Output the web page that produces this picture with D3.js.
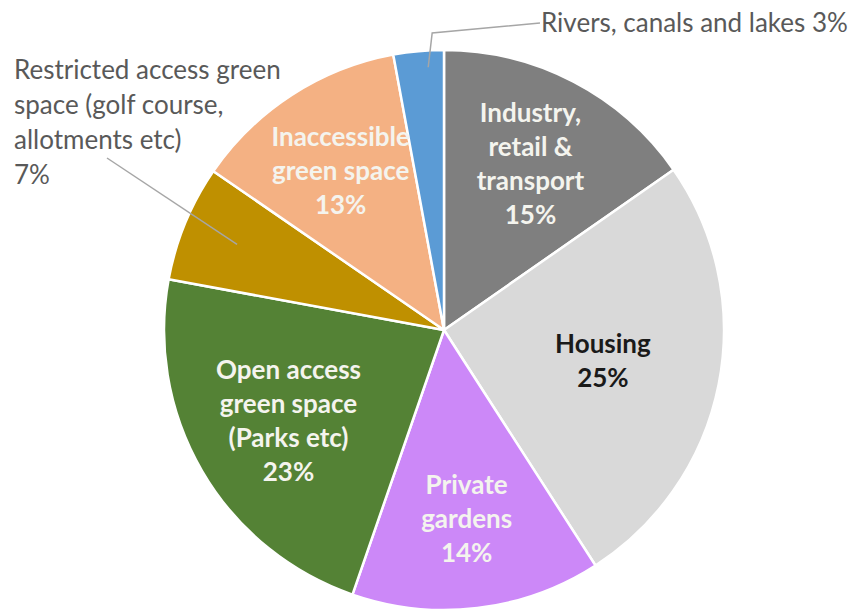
<!DOCTYPE html>
<html>
<head>
<meta charset="utf-8">
<script src="https://cdn.jsdelivr.net/npm/d3@7"></script>
<style>
  body { margin: 0; background: #fff; }
  svg text { font-family: Lato, "Open Sans", sans-serif; }
</style>
</head>
<body>
<svg id="pie" width="861" height="611"></svg>
<script>
// land use shares, clockwise from 12 o'clock
const categories = ['Industry, retail & transport', 'Housing', 'Private gardens',
    'Open access green space (Parks etc)', 'Restricted access green space (golf course, allotments etc)',
    'Inaccessible green space', 'Rivers, canals and lakes'];
const shares = [15.3, 25.6, 14.4, 22.6, 6.7, 12.5, 2.9];
const pctLabels = ['15%', '25%', '14%', '23%', '7%', '13%', '3%'];
const labelLines = [
    ['Industry,', 'retail &', 'transport'],
    ['Housing'],
    ['Private', 'gardens'],
    ['Open access', 'green space', '(Parks etc)'],
    ['Restricted access green', 'space (golf course,', 'allotments etc)'],
    ['Inaccessible', 'green space'],
    ['Rivers, canals and lakes']
];
const colors = ['#7f7f7f', '#d9d9d9', '#cc88f8', '#548235', '#bf9000', '#f4b183', '#5b9bd5'];

const svg = d3.select('svg#pie'),
    cx = 444, cy = 330, radius = 280,
    fontSize = 26;

const g = svg.append('g').attr('transform', 'translate(' + cx + ',' + cy + ')');

const data = categories.map(function(c, i) {
    return {name: c, value: shares[i], pct: pctLabels[i], lines: labelLines[i], color: colors[i]};
});

const pie = d3.pie().sort(null).value(d => d.value);
const arcs = pie(data);

const arc = d3.arc().innerRadius(0).outerRadius(radius);

g.selectAll('.slice')
    .data(arcs)
    .enter().append('path')
        .attr('class', 'slice')
        .attr('d', arc)
        .attr('fill', d => d.data.color)
        .attr('stroke', '#fff')
        .attr('stroke-width', 2.5)
        .attr('stroke-linejoin', 'round');

// labels inside the slices
const inside = [0, 1, 2, 3, 5];
const labelR = {0: 187, 1: 162, 2: 190, 3: 180, 5: 190};
const lineH = 34;

inside.forEach(function(i) {
    const a = arcs[i];
    const c = d3.arc().innerRadius(labelR[i]).outerRadius(labelR[i]).centroid(a);
    const lines = a.data.lines.concat([a.data.pct]);
    const top = c[1] - (lines.length - 1) * lineH / 2;
    const t = g.append('text')
        .attr('text-anchor', 'middle')
        .attr('font-weight', 'bold')
        .attr('font-size', fontSize)
        .attr('fill', i === 1 ? '#1a1a1a' : '#f4f4ee');
    lines.forEach(function(l, k) {
        t.append('tspan')
            .attr('x', c[0])
            .attr('y', top + k * lineH)
            .attr('dy', '0.35em')
            .text(l);
    });
});

// outside labels with leader lines
const leader = d3.line();

// restricted access
const rArc = arcs[4];
const rIn = d3.arc().innerRadius(radius * 0.8).outerRadius(radius * 0.8).centroid(rArc);
g.append('path')
    .attr('d', leader([[107 - cx, 158 - cy], rIn]))
    .attr('fill', 'none')
    .attr('stroke', '#a6a6a6')
    .attr('stroke-width', 1.5);

const rText = svg.append('text')
    .attr('font-size', fontSize)
    .attr('fill', '#595959');
rArc.data.lines.concat([rArc.data.pct]).forEach(function(l, k) {
    rText.append('tspan')
        .attr('x', 14)
        .attr('y', 70 + k * 35)
        .attr('dy', '0.35em')
        .text(l);
});

// rivers
const wArc = arcs[6];
const wAng = wArc.endAngle - (wArc.endAngle - wArc.startAngle) * 0.33;
const wIn = [Math.sin(wAng) * radius * 0.94, -Math.cos(wAng) * radius * 0.94];
g.append('path')
    .attr('d', leader([[540 - cx, 23 - cy], [wIn[0] + 4, 33 - cy], wIn]))
    .attr('fill', 'none')
    .attr('stroke', '#a6a6a6')
    .attr('stroke-width', 1.5);

svg.append('text')
    .attr('x', 541)
    .attr('y', 23)
    .attr('dy', '0.35em')
    .attr('font-size', fontSize)
    .attr('fill', '#595959')
    .text(wArc.data.lines[0] + ' ' + wArc.data.pct);
</script>
</body>
</html>
